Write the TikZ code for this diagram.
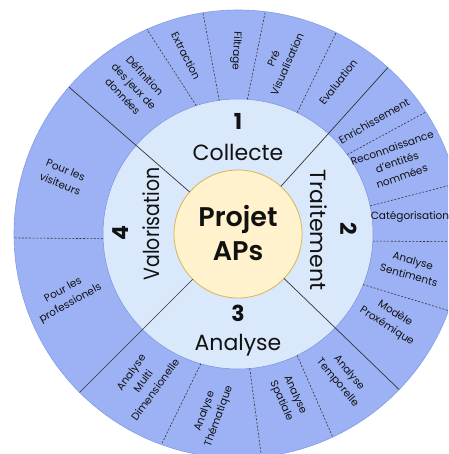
\documentclass[tikz,border=0pt]{standalone}
\usepackage{fontspec}
\setmainfont{Poppins}
\IfFontExistsTF{Poppins SemiBold}{\newfontfamily\projfont{Poppins SemiBold}}{%
  \IfFontExistsTF{Poppins Medium}{\newfontfamily\projfont{Poppins Medium}}{\newfontfamily\projfont{Poppins}[UprightFont={* Bold}]}}
\newfontfamily\narrowfont[FakeStretch=0.86]{Poppins}
\definecolor{ringout}{RGB}{157,178,245}
\definecolor{ringin}{HTML}{DAE8FC}
\definecolor{corefill}{HTML}{FFF2CC}
\definecolor{coredraw}{HTML}{D6B656}
\definecolor{sepcol}{HTML}{333333}
\definecolor{txt}{HTML}{111111}
\definecolor{outedge}{RGB}{130,155,230}
\definecolor{inedge}{RGB}{120,145,215}
\begin{document}
\begin{tikzpicture}[x=1pt,y=1pt,
  disc/.style={circle, inner sep=0pt, outer sep=0pt},
  solidsep/.style={draw=sepcol, line width=0.7pt},
  dashsep/.style={draw=sepcol, line width=0.6pt, dash pattern=on 2pt off 1.6pt},
  phase/.style={text=txt, font=\fontsize{22}{26}\selectfont, inner sep=0pt},
  num/.style={text=txt, font=\fontsize{22}{26}\selectfont\bfseries, inner sep=0pt},
  lab/.style={text=txt, font=\fontsize{10.5}{15}\selectfont, align=center, inner sep=0pt}]
\useasboundingbox (-238,-220) rectangle (210,234);
\clip (-238,-220) rectangle (210,234);
% rings
\node[disc, minimum size=448pt, fill=ringout, draw=outedge, line width=0.6pt] (outer) at (0,0) {};
\node[disc, minimum size=270pt, fill=ringin, draw=inedge, line width=0.5pt] (ring) at (0,0) {};
\node[disc, minimum size=128pt, fill=corefill, draw=coredraw, line width=0.8pt] (core) at (0,0) {};
% quadrant separators
\draw[solidsep] (core.48) -- (outer.48);
\draw[solidsep] (core.139) -- (outer.139);
\draw[solidsep] (core.225) -- (outer.225);
\draw[solidsep] (core.316) -- (outer.316);
% sub-item separators
\draw[dashsep] (ring.108) -- (outer.114);
\draw[dashsep] (ring.98) -- (outer.99);
\draw[dashsep] (ring.86) -- (outer.83);
\draw[dashsep] (ring.64) -- (outer.64);
\draw[dashsep] (ring.36) -- (outer.33);
\draw[dashsep] (ring.12) -- (outer.13);
\draw[dashsep] (ring.357) -- (outer.358);
\draw[dashsep] (ring.338) -- (outer.340);
\draw[dashsep] (ring.296) -- (outer.295);
\draw[dashsep] (ring.275) -- (outer.276);
\draw[dashsep] (ring.254) -- (outer.250);
\draw[dashsep] (ring.182) -- (outer.181);
% centre
\node[text=txt, font=\projfont\fontsize{27}{34}\selectfont, align=center, inner sep=0pt] (proj) at (0,1) {Projet\\APs};
% phases
\node[num] (n1) at (0,113) {1};
\node[phase] (p1) at (0,82) {Collecte};
\node[num, rotate=-90] (n2) at (111,5) {2};
\node[phase, rotate=-90] (p2) at (81,4) {Traitement};
\node[num] (n3) at (0,-79) {3};
\node[phase] (p3) at (0,-111) {Analyse};
\node[num, rotate=90] (n4) at (-117,1) {4};
\node[phase, rotate=90, font=\narrowfont\fontsize{22}{26}\selectfont] (p4) at (-87,10) {Valorisation};
% outer labels
\node[lab, rotate=-47] (l1) at (-104,148) {Définition\\des jeux de\\données};
\node[lab, rotate=-63] (l2) at (-52,178) {Extraction};
\node[lab, rotate=-93] (l3) at (-2,183) {Filtrage};
\node[lab, rotate=66] (l4) at (42,173) {Pré\\Visualisation};
\node[lab, rotate=52] (l5) at (100,152) {Evaluation};
\node[lab, rotate=30] (l6) at (136,113) {Enrichissement};
\node[lab, rotate=19] (l7) at (159,72) {Reconnaissance\\d'entités\\nommées};
\node[lab] (l8) at (172,17) {Catégorisation};
\node[lab, rotate=-16] (l9) at (173,-34) {Analyse\\Sentiments};
\node[lab, rotate=-33] (l10) at (153,-86) {Modèle\\Proxémique};
\node[lab, rotate=-50] (l11) at (105,-144) {Analyse\\Temporelle};
\node[lab, rotate=-66] (l12) at (50,-164) {Analyse\\Spatiale};
\node[lab, rotate=70] (l13) at (-26,-180) {Analyse\\Thématique};
\node[lab, rotate=54] (l14) at (-95,-147) {Analyse\\Multi\\Dimensionelle};
\node[lab, rotate=-22] (l15) at (-175,57) {Pour les\\visiteurs};
\node[lab, rotate=29] (l16) at (-171,-63) {Pour les\\professionels};
\end{tikzpicture}
\end{document}
